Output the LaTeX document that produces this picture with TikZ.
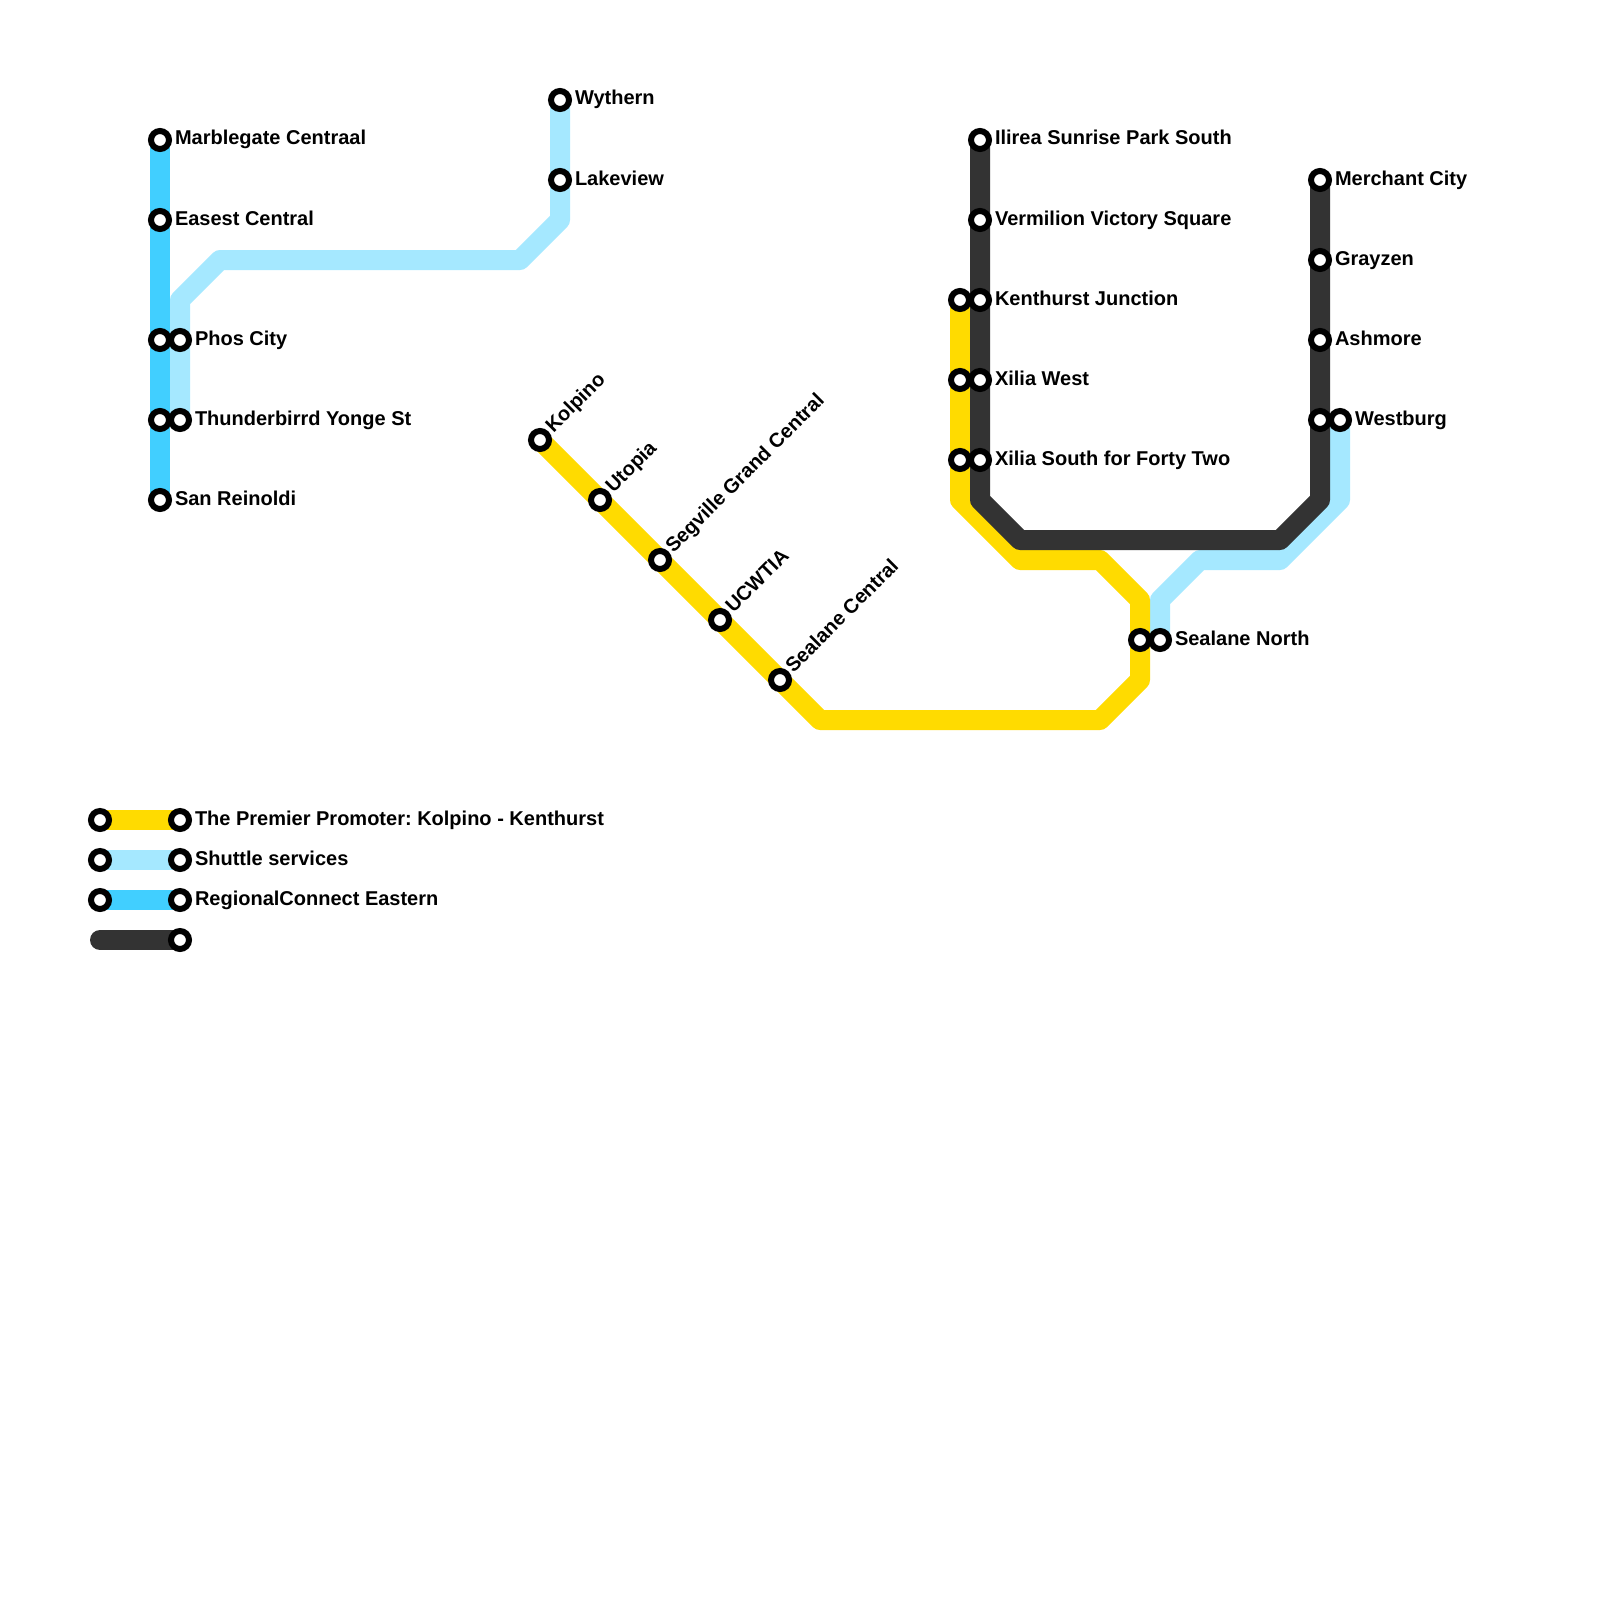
\documentclass[tikz,border=0pt]{standalone}
\usepackage{fontspec}
\setmainfont{Liberation Sans}
\pgfdeclarelayer{lines}
\pgfsetlayers{lines,main}
\definecolor{cyellow}{HTML}{FFDB00}
\definecolor{cpale}{HTML}{A5E8FF}
\definecolor{cblue}{HTML}{41CFFF}
\definecolor{cdark}{HTML}{333333}
\tikzset{
  x=1pt,y=-1pt,
  stn/.style={circle,draw=black,fill=white,line width=6pt,minimum size=18pt,inner sep=0pt,outer sep=0pt},
  lbl/.style={font=\bfseries\fontsize{20}{20}\selectfont,text=black,anchor=base west,inner sep=0pt,outer sep=0pt},
  rlbl/.style={font=\bfseries\fontsize{20}{20}\selectfont,text=black,anchor=base west,inner sep=0pt,outer sep=0pt,rotate=45},
  route/.style={line width=20pt,line join=round,line cap=butt},
}
\newcommand{\stnlabel}[4]{\node[stn] (#1) at (#2,#3) {};\node[lbl] (#1t) at (#2+15,#3+5) {#4};}
\newcommand{\stnrot}[4]{\node[stn] (#1) at (#2,#3) {};\node[rlbl] (#1t) at (#2+13.5,#3-6.5) {#4};}
\begin{document}
\frenchspacing
\begin{tikzpicture}
\useasboundingbox (0,0) rectangle (1600,1600);
% stations: blue
\stnlabel{mc}{160}{140}{Marblegate Centraal}
\stnlabel{ec}{160}{220}{Easest Central}
\node[stn] (b3) at (160,340) {};
\node[stn] (b4) at (160,420) {};
\stnlabel{sr}{160}{500}{San Reinoldi}
% shuttle west
\stnlabel{wy}{560}{100}{Wythern}
\stnlabel{lv}{560}{180}{Lakeview}
\stnlabel{ph}{180}{340}{Phos City}
\stnlabel{th}{180}{420}{Thunderbirrd Yonge St}
% yellow diagonal
\stnrot{ko}{540}{440}{Kolpino}
\stnrot{ut}{600}{500}{Utopia}
\stnrot{se}{660}{560}{Segville Grand Central}
\stnrot{uc}{720}{620}{UCWTIA}
\stnrot{sc}{780}{680}{Sealane Central}
% yellow east
\node[stn] (y1) at (960,300) {};
\node[stn] (y2) at (960,380) {};
\node[stn] (y3) at (960,460) {};
\node[stn] (y4) at (1140,640) {};
% dark
\stnlabel{il}{980}{140}{Ilirea Sunrise Park South}
\stnlabel{ve}{980}{220}{Vermilion Victory Square}
\stnlabel{ke}{980}{300}{Kenthurst Junction}
\stnlabel{xw}{980}{380}{Xilia West}
\stnlabel{xs}{980}{460}{Xilia South for Forty Two}
\stnlabel{me}{1320}{180}{Merchant City}
\stnlabel{gr}{1320}{260}{Grayzen}
\stnlabel{as}{1320}{340}{Ashmore}
\node[stn] (d4) at (1320,420) {};
% shuttle east
\stnlabel{we}{1340}{420}{Westburg}
\stnlabel{sn}{1160}{640}{Sealane North}
% legend
\node[stn] (l1a) at (100,820) {};
\stnlabel{l1b}{180}{820}{The Premier Promoter: Kolpino - Kenthurst}
\node[stn] (l2a) at (100,860) {};
\stnlabel{l2b}{180}{860}{Shuttle services}
\node[stn] (l3a) at (100,900) {};
\stnlabel{l3b}{180}{900}{RegionalConnect Eastern}
\coordinate (l4a) at (100,940);
\node[stn] (l4b) at (180,940) {};
\begin{pgfonlayer}{lines}
\fill[white] (0,0) rectangle (1600,1600);
\draw[route,cpale] (wy.center) -- (560,220) -- (520,260) -- (220,260) -- (180,300) -- (th.center);
\draw[route,cpale] (we.center) -- (1340,500) -- (1280,560) -- (1200,560) -- (1160,600) -- (sn.center);
\draw[route,cblue] (mc.center) -- (sr.center);
\draw[route,cyellow] (ko.center) -- (820,720) -- (1100,720) -- (1140,680) -- (y4.center) -- (1140,600) -- (1100,560) -- (1020,560) -- (960,500) -- (y1.center);
\draw[route,cdark] (il.center) -- (980,500) -- (1020,540) -- (1280,540) -- (1320,500) -- (me.center);
\draw[route,cyellow] (l1a.center) -- (l1b.center);
\draw[route,cpale] (l2a.center) -- (l2b.center);
\draw[route,cblue] (l3a.center) -- (l3b.center);
\draw[route,cdark,line cap=round] (l4a) -- (l4b.center);
\end{pgfonlayer}
\end{tikzpicture}
\end{document}
